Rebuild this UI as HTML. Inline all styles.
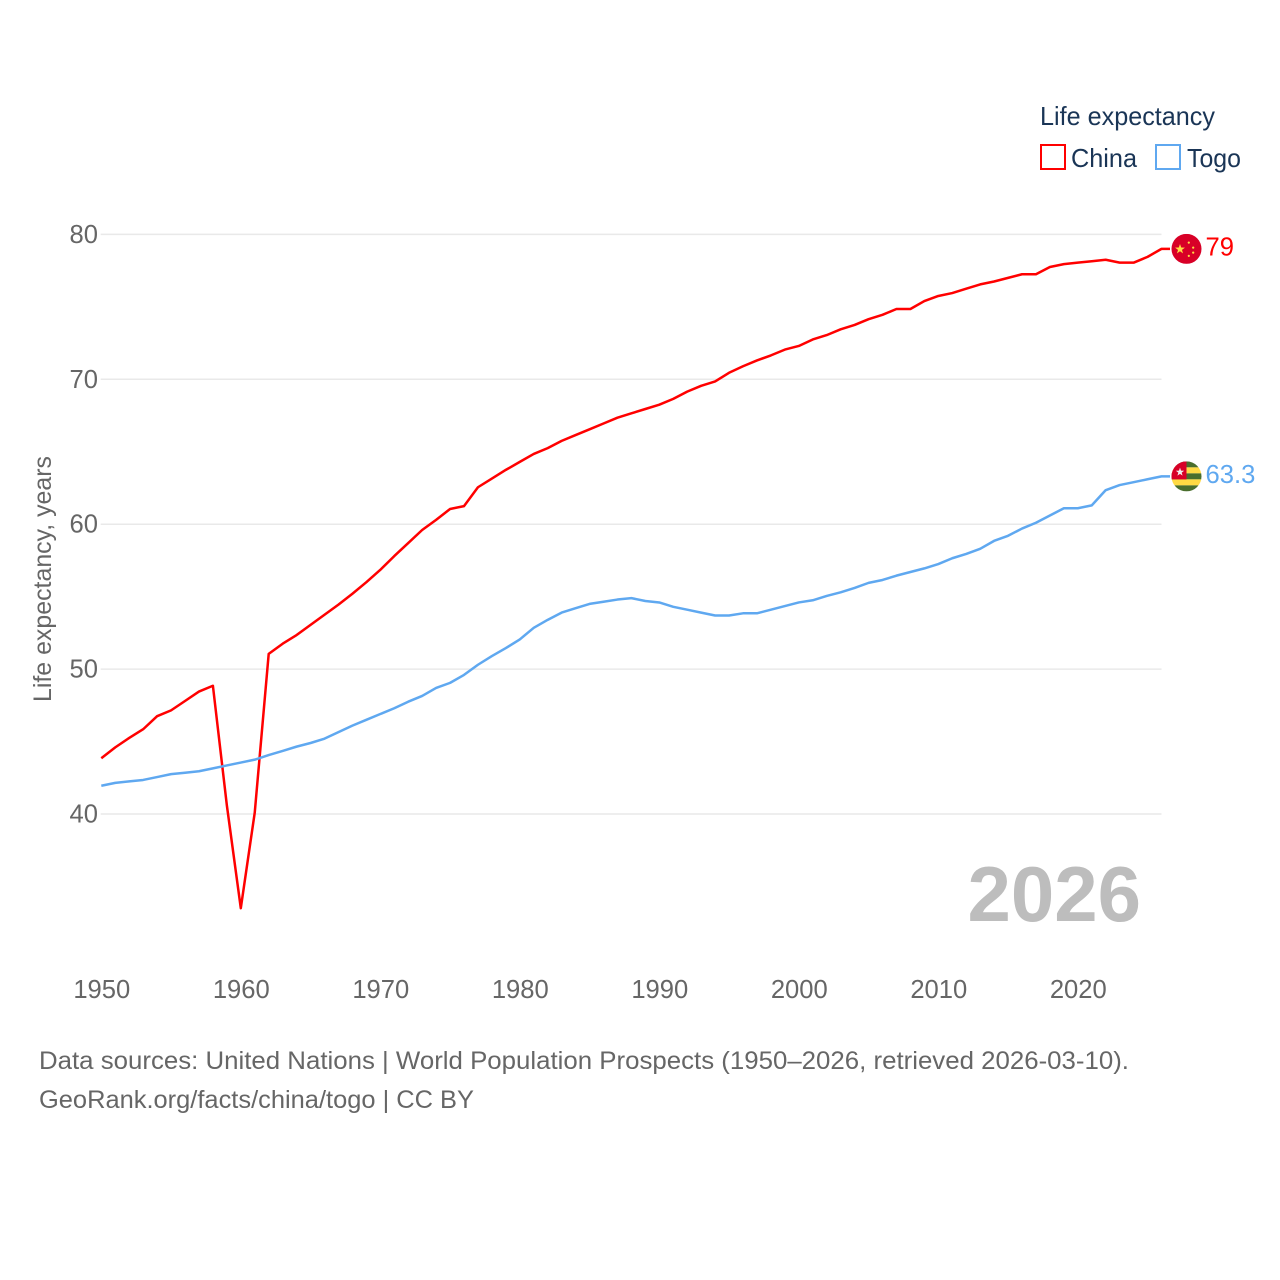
<!DOCTYPE html>
<html lang="en">
<head>
<meta charset="utf-8">
<title>Life expectancy: China and Togo</title>
<style>
  html, body { margin: 0; padding: 0; background: #fff; }
  svg { display: block; }
  text { font-family: "Liberation Sans", sans-serif; }
</style>
</head>
<body>
<svg id="chart" xmlns="http://www.w3.org/2000/svg" width="1280" height="1280" viewBox="0 0 1280 1280">
  <defs>
    <clipPath id="flag-clip"><circle cx="0" cy="0" r="15"></circle></clipPath>
  </defs>
  <rect x="0" y="0" width="1280" height="1280" fill="#ffffff"></rect>
  <g id="grid"></g>
  <g id="yticks"></g>
  <g id="xticks"></g>
  <text transform="translate(51,702) rotate(-90)" font-size="25" fill="#666666" textLength="246" lengthAdjust="spacingAndGlyphs">Life expectancy, years</text>
  <g id="series"></g>

  <g id="flag-china">
    <g clip-path="url(#flag-clip)">
      <rect x="-15" y="-15" width="30" height="30" fill="#d80027"></rect>
      <polygon transform="translate(-6.5,0.3) scale(0.52)" points="0,-10 2.35,-3.24 9.51,-3.09 3.8,1.24 5.88,8.09 0,4 -5.88,8.09 -3.8,1.24 -9.51,-3.09 -2.35,-3.24" fill="#ffda44"></polygon>
      <circle cx="2.3" cy="-6.3" r="1.1" fill="#ffda44"></circle>
      <circle cx="6.7" cy="-1.3" r="1.1" fill="#ffda44"></circle>
      <circle cx="6.7" cy="3.7" r="1.1" fill="#ffda44"></circle>
      <circle cx="2.3" cy="7" r="1.1" fill="#ffda44"></circle>
    </g>
  </g>
  <g id="flag-togo">
    <g clip-path="url(#flag-clip)">
      <rect x="-15" y="-15" width="30" height="6" fill="#496e2d"></rect>
      <rect x="-15" y="-9" width="30" height="6" fill="#ffda44"></rect>
      <rect x="-15" y="-3" width="30" height="6" fill="#496e2d"></rect>
      <rect x="-15" y="3" width="30" height="6" fill="#ffda44"></rect>
      <rect x="-15" y="9" width="30" height="6" fill="#496e2d"></rect>
      <rect x="-15" y="-15" width="15" height="18" fill="#d80027"></rect>
      <polygon transform="translate(-6.5,-4.3) scale(0.44)" points="0,-10 2.35,-3.24 9.51,-3.09 3.8,1.24 5.88,8.09 0,4 -5.88,8.09 -3.8,1.24 -9.51,-3.09 -2.35,-3.24" fill="#f0f0f0"></polygon>
    </g>
  </g>
  <g id="end-labels"></g>

  <text x="1141" y="921" font-size="78" font-weight="700" fill="#bdbdbd" text-anchor="end">2026</text>

  <g>
    <text x="1040" y="125" font-size="26" fill="#1a3556" textLength="175" lengthAdjust="spacingAndGlyphs">Life expectancy</text>
    <g>
      <rect x="1041" y="145" width="24" height="24" fill="none" stroke="#ff0000" stroke-width="2"></rect>
      <text x="1071" y="167" font-size="26" fill="#1a3556" textLength="66" lengthAdjust="spacingAndGlyphs">China</text>
    </g>
    <g>
      <rect x="1156" y="145" width="24" height="24" fill="none" stroke="#5fa8f0" stroke-width="2"></rect>
      <text x="1187" y="167" font-size="26" fill="#1a3556" textLength="54" lengthAdjust="spacingAndGlyphs">Togo</text>
    </g>
  </g>

  <text x="39" y="1069" font-size="25" fill="#666666" textLength="1090" lengthAdjust="spacingAndGlyphs">Data sources: United Nations | World Population Prospects (1950–2026, retrieved 2026-03-10).</text>
  <text x="39" y="1108" font-size="25" fill="#666666" textLength="435" lengthAdjust="spacingAndGlyphs">GeoRank.org/facts/china/togo | CC BY</text>
</svg>

<script>
const startYear = 1950;
const chinaValues = [
  43.85, 44.6, 45.25, 45.85, 46.75, 47.15, 47.8, 48.45, 48.85, 40.6,
  33.5, 40.1, 51.05, 51.75, 52.35, 53.05, 53.75, 54.45, 55.2, 56.0,
  56.85, 57.8, 58.7, 59.6, 60.3, 61.05, 61.25, 62.55, 63.15, 63.75,
  64.3, 64.85, 65.25, 65.75, 66.15, 66.55, 66.95, 67.35, 67.65, 67.95,
  68.25, 68.65, 69.15, 69.55, 69.85, 70.45, 70.9, 71.3, 71.65, 72.05,
  72.3, 72.75, 73.05, 73.45, 73.75, 74.15, 74.45, 74.85, 74.85, 75.4,
  75.75, 75.95, 76.25, 76.55, 76.75, 77.0, 77.25, 77.25, 77.75, 77.95,
  78.05, 78.15, 78.25, 78.05, 78.05, 78.45, 79.0
];
const togoValues = [
  41.95, 42.15, 42.25, 42.35, 42.55, 42.75, 42.85, 42.95, 43.15, 43.35,
  43.55, 43.75, 44.07, 44.35, 44.65, 44.9, 45.2, 45.65, 46.1, 46.5,
  46.9, 47.3, 47.75, 48.15, 48.7, 49.05, 49.6, 50.3, 50.9, 51.45,
  52.05, 52.85, 53.4, 53.9, 54.2, 54.5, 54.65, 54.8, 54.9, 54.7,
  54.6, 54.3, 54.1, 53.9, 53.7, 53.7, 53.85, 53.85, 54.1, 54.35,
  54.6, 54.75, 55.05, 55.3, 55.6, 55.95, 56.15, 56.45, 56.7, 56.95,
  57.25, 57.65, 57.95, 58.3, 58.85, 59.2, 59.7, 60.1, 60.6, 61.1,
  61.1, 61.3, 62.35, 62.7, 62.9, 63.1, 63.3
];
const xTickYears = [1950, 1960, 1970, 1980, 1990, 2000, 2010, 2020];
const yTickValues = [40, 50, 60, 70, 80];
const chinaLabel = "79";
const togoLabel = "63.3";

const NS = "http://www.w3.org/2000/svg";
const xScale = (year) => 101.3 + (year - 1950) * 13.95;
const yScale = (value) => 814 - (value - 40) * 14.49;

function svgEl(tag, attrs, parent) {
  const el = document.createElementNS(NS, tag);
  for (const key in attrs) el.setAttribute(key, attrs[key]);
  parent.appendChild(el);
  return el;
}

const gridGroup = document.getElementById("grid");
const yGroup = document.getElementById("yticks");
const xGroup = document.getElementById("xticks");
const seriesGroup = document.getElementById("series");
const endGroup = document.getElementById("end-labels");

yTickValues.forEach((v) => {
  const line = svgEl("line", { x1: 100.7, x2: xScale(2026), y1: yScale(v), y2: yScale(v), stroke: "#e9e9e9", "stroke-width": 1.5 }, gridGroup);
  
  
  const label = svgEl("text", { x: 98, y: yScale(v) + 8.5, "font-size": 25.6, fill: "#666666", "text-anchor": "end" }, yGroup);
  
  
  label.textContent = v;
});

xTickYears.forEach((yr) => {
  const label = svgEl("text", { x: xScale(yr) + 0.5, y: 998, "font-size": 25.6, fill: "#666666", "text-anchor": "middle" }, xGroup);
  
  
  label.textContent = yr;
});

function drawSeries(values, color, seriesName) {
  const pts = values.map((v, i) => xScale(startYear + i).toFixed(2) + "," + yScale(v).toFixed(2));
  const lastY = yScale(values[values.length - 1]).toFixed(2);
  pts.push("1170," + lastY);
  const line = svgEl("polyline", { points: pts.join(" "), fill: "none", stroke: color, "stroke-width": 2.5, "stroke-linejoin": "round" }, seriesGroup);
  
  
}
drawSeries(chinaValues, "#ff0000", "china-line");
drawSeries(togoValues, "#5fa8f0", "togo-line");

function placeEnd(flagId, values, text, color, labelName) {
  const y = yScale(values[values.length - 1]);
  document.getElementById(flagId).setAttribute("transform", "translate(1186.5," + y.toFixed(2) + ")");
  const label = svgEl("text", { x: 1205.5, y: y + 6.5, "font-size": 25.6, fill: color }, endGroup);
  
  
  label.textContent = text;
}
placeEnd("flag-china", chinaValues, chinaLabel, "#ff0000", "china-end-value");
placeEnd("flag-togo", togoValues, togoLabel, "#5fa8f0", "togo-end-value");
</script>
</body>
</html>
